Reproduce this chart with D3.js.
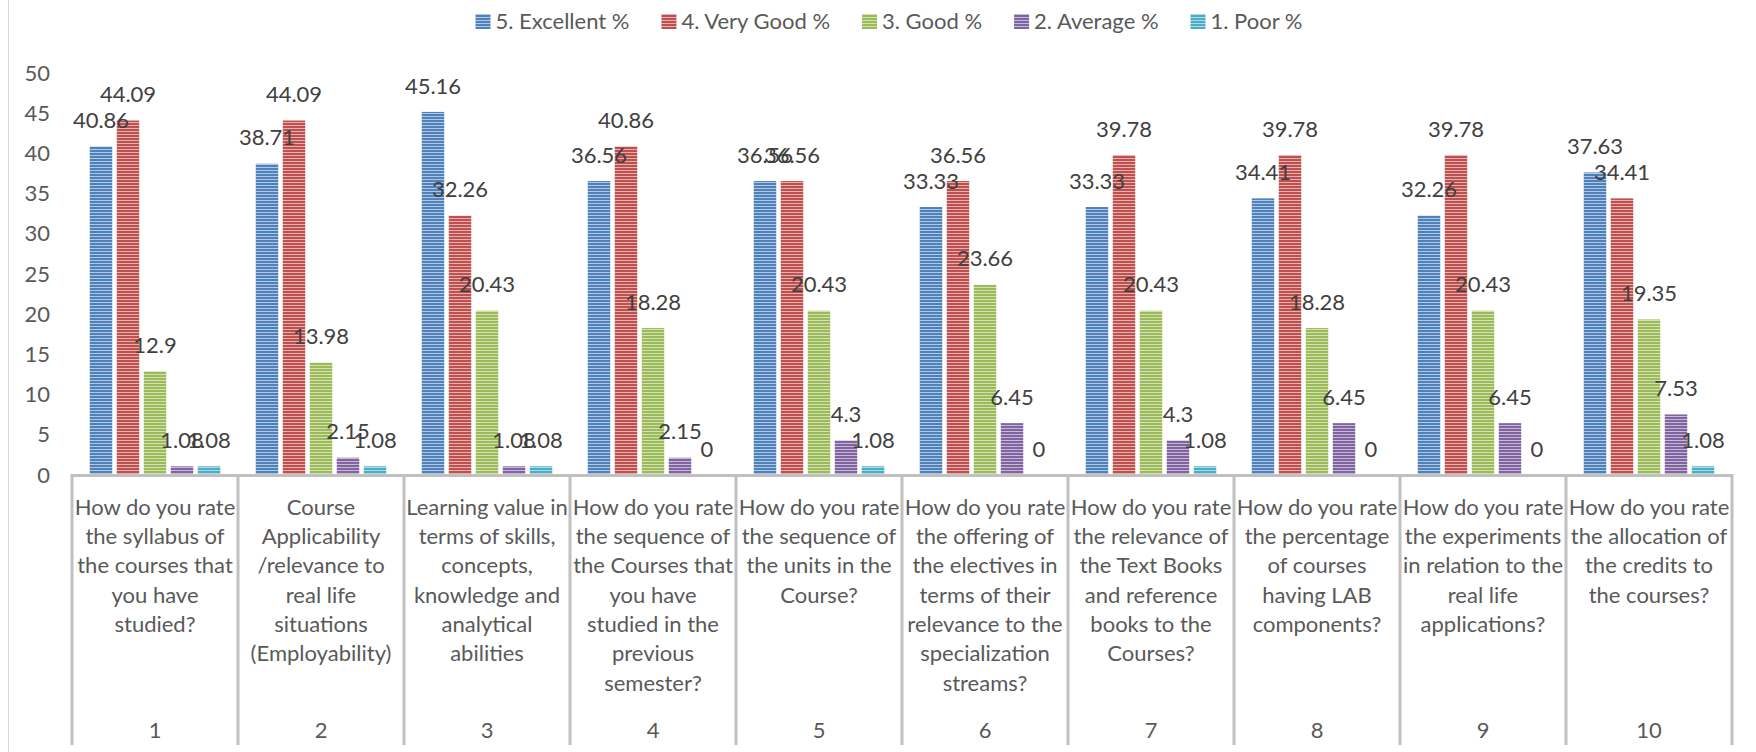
<!DOCTYPE html>
<html>
<head>
<meta charset="utf-8">
<script src="https://cdn.jsdelivr.net/npm/d3@7"></script>
<style>
  body { margin: 0; background: #fff; }
  svg text { font-family: Lato, "Open Sans", sans-serif; }
</style>
</head>
<body>
<div id="chart"></div>
<script>
`use strict`;

// categories (question number + wrapped question text)
var categories = ['1','2','3','4','5','6','7','8','9','10'];
var questions = [
  ['How do you rate','the syllabus of','the courses that','you have','studied?'],
  ['Course','Applicability','/relevance to','real life','situations','(Employability)'],
  ['Learning value in','terms of skills,','concepts,','knowledge and','analytical','abilities'],
  ['How do you rate','the sequence of','the Courses that','you have','studied in the','previous','semester?'],
  ['How do you rate','the sequence of','the units in the','Course?'],
  ['How do you rate','the offering of','the electives in','terms of their','relevance to the','specialization','streams?'],
  ['How do you rate','the relevance of','the Text Books','and reference','books to the','Courses?'],
  ['How do you rate','the percentage','of courses','having LAB','components?'],
  ['How do you rate','the experiments','in relation to the','real life','applications?'],
  ['How do you rate','the allocation of','the credits to','the courses?']
];

// series
var seriesNames = ['5. Excellent %','4. Very Good %','3. Good %','2. Average %','1. Poor %'];
var excellent = [40.86, 38.71, 45.16, 36.56, 36.56, 33.33, 33.33, 34.41, 32.26, 37.63];
var veryGood  = [44.09, 44.09, 32.26, 40.86, 36.56, 36.56, 39.78, 39.78, 39.78, 34.41];
var good      = [12.9, 13.98, 20.43, 18.28, 20.43, 23.66, 20.43, 18.28, 20.43, 19.35];
var average   = [1.08, 2.15, 1.08, 2.15, 4.3, 6.45, 4.3, 6.45, 6.45, 7.53];
var poor      = [1.08, 1.08, 1.08, 0, 1.08, 0, 1.08, 0, 0, 1.08];
var yTicks = [0, 5, 10, 15, 20, 25, 30, 35, 40, 45, 50];

var seriesValues = [excellent, veryGood, good, average, poor];
var colors = ['#4F81BD', '#C0504D', '#9BBB59', '#8064A2', '#4BACC6'];

var w = 1756, h = 752;
var svg = d3.select('#chart').append('svg').attr('width', w).attr('height', h);

// striped fill like the Excel "narrow horizontal" pattern
var defs = svg.append('defs');
colors.forEach(function(c, i){
    var p = defs.append('pattern').attr('id', 'stripe' + i)
        .attr('patternUnits', 'userSpaceOnUse').attr('width', 6).attr('height', 3);
    p.append('rect').attr('width', 6).attr('height', 3).attr('fill', c);
    p.append('rect').attr('y', 2).attr('width', 6).attr('height', 1)
        .attr('fill', d3.interpolateRgb(c, '#fff')(0.55));
});

// chart area left border
svg.append('line').attr('x1', 8.5).attr('x2', 8.5).attr('y1', 0).attr('y2', h)
    .attr('stroke', '#d9d9d9').attr('stroke-width', 1);

var xScale = d3.scaleBand().domain(categories).range([72, 1732]).padding(0);
var xInner = d3.scaleBand().domain(d3.range(5)).range([0, xScale.bandwidth()])
    .paddingInner(0.1667).paddingOuter(0.657);
var yScale = d3.scaleLinear().domain([0, 50]).range([475, 73]);

// y axis labels only (no line, no ticks)
var yAxis = d3.axisLeft(yScale).tickValues(yTicks).tickSize(0).tickPadding(0);
var yg = svg.append('g').attr('transform', 'translate(50,0)').call(yAxis);
yg.select('.domain').remove();
yg.selectAll('text').attr('font-size', 22).attr('fill', '#595959')
    .attr('font-family', 'Lato, sans-serif');

// bars
var data = [];
categories.forEach(function(cat, ci){
    seriesValues.forEach(function(vals, si){
        data.push({cat: cat, s: si, v: vals[ci]});
    });
});

svg.selectAll('rect.bar').data(data).enter().append('rect')
    .attr('class', 'bar')
    .attr('x', function(d){ return xScale(d.cat) + xInner(d.s); })
    .attr('width', xInner.bandwidth())
    .attr('y', function(d){ return yScale(d.v); })
    .attr('height', function(d){ return yScale(0) - yScale(d.v); })
    .attr('fill', function(d){ return 'url(#stripe' + d.s + ')'; });

// data labels
svg.selectAll('text.lbl').data(data).enter().append('text')
    .attr('class', 'lbl')
    .attr('x', function(d){ return xScale(d.cat) + xInner(d.s) + xInner.bandwidth() / 2; })
    .attr('y', function(d){ return yScale(d.v) - 26; })
    .attr('dy', '0.35em')
    .attr('text-anchor', 'middle')
    .attr('font-size', 22).attr('fill', '#404040')
    .text(function(d){ return d.v; });

// category axis: baseline + separators
var axisColor = '#c0c0c0';
svg.append('line').attr('x1', 72).attr('x2', 1732).attr('y1', 475.5).attr('y2', 475.5)
    .attr('stroke', axisColor).attr('stroke-width', 3);
var bounds = categories.map(function(c){ return xScale(c); }).concat([xScale.range()[1]]);
svg.selectAll('line.sep').data(bounds).enter().append('line')
    .attr('class', 'sep')
    .attr('x1', function(d){ return d; }).attr('x2', function(d){ return d; })
    .attr('y1', 474).attr('y2', 745)
    .attr('stroke', axisColor).attr('stroke-width', 3);

// wrapped question text
var qg = svg.selectAll('g.q').data(categories).enter().append('g')
    .attr('class', 'q')
    .attr('transform', function(d){ return 'translate(' + (xScale(d) + xScale.bandwidth() / 2) + ',0)'; });
qg.each(function(d, i){
    var g = d3.select(this);
    questions[i].forEach(function(line, li){
        g.append('text').attr('y', 507 + li * 29.3).attr('dy', '0.35em')
            .attr('text-anchor', 'middle').attr('font-size', 22).attr('fill', '#595959')
            .text(line);
    });
    g.append('text').attr('y', 730).attr('dy', '0.35em')
        .attr('text-anchor', 'middle').attr('font-size', 22).attr('fill', '#595959')
        .text(d);
});

// legend, centred like the original
var legend = svg.append('g');
var items = legend.selectAll('g').data(seriesNames).enter().append('g');
items.append('rect').attr('width', 15).attr('height', 15).attr('y', 14)
    .attr('fill', function(d, i){ return 'url(#stripe' + i + ')'; });
items.append('text').attr('x', 20).attr('y', 21.5).attr('dy', '0.35em')
    .attr('font-size', 22).attr('fill', '#595959').text(function(d){ return d; });
var xPos = 0;
items.each(function(){
    var tw = d3.select(this).select('text').node().getComputedTextLength();
    d3.select(this).attr('transform', 'translate(' + xPos + ',0)');
    xPos += 20 + tw + 32;
});
var legendW = xPos - 32;
legend.attr('transform', 'translate(' + (889 - legendW / 2) + ',0)');
</script>
</body>
</html>
